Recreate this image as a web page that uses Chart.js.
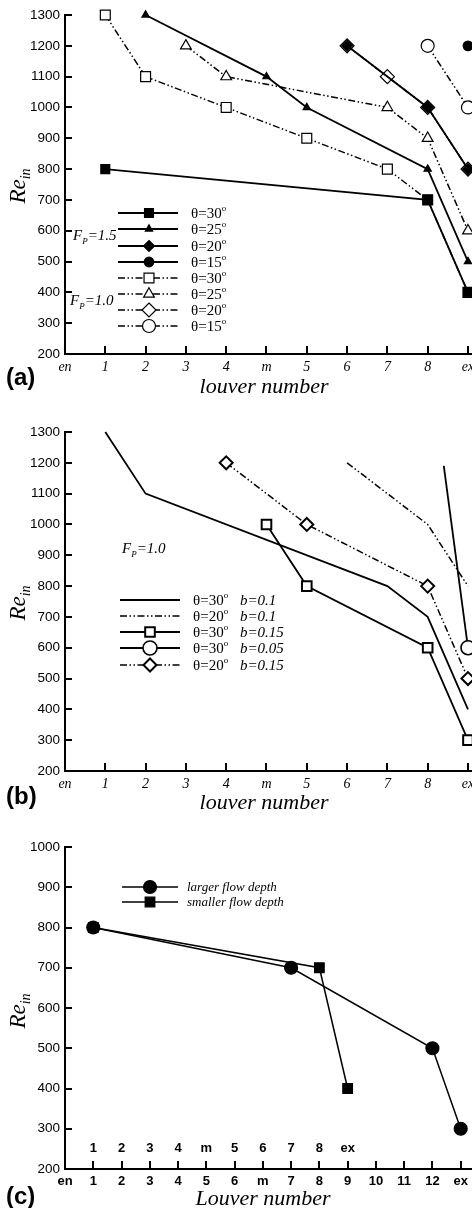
<!DOCTYPE html>
<html>
<head>
<meta charset="utf-8">
<script src="https://cdn.jsdelivr.net/npm/chart.js@4"></script>
<style>
  html, body { margin: 0; padding: 0; background: #fff; }
  canvas { position: absolute; left: 0; }
</style>
</head>
<body>
<canvas id="chartA" width="472" height="410" style="top:0px"></canvas>
<canvas id="chartB" width="472" height="400" style="top:415px"></canvas>
<canvas id="chartC" width="472" height="383" style="top:825px"></canvas>
<script>
// louver positions for (a) and (b): en=0, 1..4, m=5, 5..8 -> 6..9, ex=10
var abTickLabels = ['en', '1', '2', '3', '4', 'm', '5', '6', '7', '8', 'ex'];

// (a) F_P = 1.5, solid lines / filled symbols
var aFp15Theta30 = [[1, 800], [9, 700], [10, 400]];
var aFp15Theta25 = [[2, 1300], [5, 1100], [6, 1000], [9, 800], [10, 500]];
var aFp15Theta20 = [[7, 1200], [9, 1000], [10, 800]];
var aFp15Theta15 = [[10, 1200]];
// (a) F_P = 1.0, dash-dot lines / open symbols
var aFp10Theta30 = [[1, 1300], [2, 1100], [4, 1000], [6, 900], [8, 800], [9, 700], [10, 400]];
var aFp10Theta25 = [[3, 1200], [4, 1100], [8, 1000], [9, 900], [10, 600]];
var aFp10Theta20 = [[7, 1200], [8, 1100], [9, 1000], [10, 800]];
var aFp10Theta15 = [[9, 1200], [10, 1000]];
var aLegend = ['θ=30', 'θ=25', 'θ=20', 'θ=15', 'θ=30', 'θ=25', 'θ=20', 'θ=15'];

// (b) F_P = 1.0
var bTheta30b010 = [[1, 1300], [2, 1100], [8, 800], [9, 700], [10, 400]];
var bTheta20b010 = [[7, 1200], [9, 1000], [10, 800]];
var bTheta30b015 = [[5, 1000], [6, 800], [9, 600], [10, 300]];
var bTheta30b005 = [[9.4, 1190], [10, 600]];
var bTheta20b015 = [[4, 1200], [6, 1000], [9, 800], [10, 500]];
var bLegendTheta = ['θ=30', 'θ=20', 'θ=30', 'θ=30', 'θ=20'];
var bLegendB = ['b=0.1', 'b=0.1', 'b=0.15', 'b=0.05', 'b=0.15'];

// (c) two flow depths
var cTickLabels = ['en', '1', '2', '3', '4', '5', '6', 'm', '7', '8', '9', '10', '11', '12', 'ex'];
var cTopLabels = ['1', '2', '3', '4', 'm', '5', '6', '7', '8', 'ex'];
var cLarger = [[1, 800], [8, 700], [13, 500], [14, 300]];
var cSmaller = [[1, 800], [9, 700], [10, 400]];
var cLegend = ['larger flow depth', 'smaller flow depth'];

var SANS = '"Liberation Sans", Arial, sans-serif';
var SERIF = '"Liberation Serif", "Times New Roman", serif';
var DASHDOT = [7, 2.5, 1.5, 2.5, 1.5, 2.5];

function pts(arr) {
    return arr.map(p => ({ x: p[0], y: p[1] }));
}

function series(arr, opts) {
    return Object.assign({
        data: pts(arr),
        borderColor: '#000',
        pointBorderColor: '#000',
        pointBackgroundColor: '#000',
        borderWidth: 1.8,
        pointBorderWidth: 1.2,
        pointRadius: 0,
        tension: 0,
        fill: false,
        clip: false
    }, opts);
}

function drawMarker(ctx, style, x, y, r, fill, lw) {
    ctx.beginPath();
    if (style === 'rect') {
        var h = r * Math.SQRT1_2;
        ctx.rect(x - h, y - h, 2 * h, 2 * h);
    } else if (style === 'rectRot') {
        ctx.moveTo(x, y - r); ctx.lineTo(x + r, y); ctx.lineTo(x, y + r); ctx.lineTo(x - r, y);
        ctx.closePath();
    } else if (style === 'triangle') {
        for (var k = 0; k < 3; k++) {
            var a = k * 2 * Math.PI / 3;
            ctx.lineTo(x + Math.sin(a) * r, y - Math.cos(a) * r);
        }
        ctx.closePath();
    } else {
        ctx.arc(x, y, r, 0, Math.PI * 2);
    }
    ctx.fillStyle = fill;
    ctx.fill();
    ctx.lineWidth = lw;
    ctx.strokeStyle = '#000';
    ctx.stroke();
}

function legendSample(ctx, ds, x1, x2, y, mx) {
    ctx.save();
    ctx.strokeStyle = '#000';
    ctx.lineWidth = ds.borderWidth;
    ctx.setLineDash(ds.borderDash || []);
    ctx.beginPath(); ctx.moveTo(x1, y); ctx.lineTo(x2, y); ctx.stroke();
    ctx.setLineDash([]);
    var r = Array.isArray(ds.pointRadius) ? ds.pointRadius[ds.pointRadius.length - 1] : ds.pointRadius;
    if (r > 0) drawMarker(ctx, ds.pointStyle, mx, y, r, ds.pointBackgroundColor, ds.pointBorderWidth);
    ctx.restore();
}

// text with optional sub/superscript pieces: [text, font, dy]
function richText(ctx, parts, x, y) {
    ctx.save();
    ctx.fillStyle = '#000';
    ctx.textBaseline = 'alphabetic';
    parts.forEach(p => {
        ctx.font = p[1];
        ctx.fillText(p[0], x, y + (p[2] || 0));
        x += ctx.measureText(p[0]).width;
    });
    ctx.restore();
}

function thetaText(ctx, s, x, y) {
    richText(ctx, [[s, '15px ' + SERIF], ['o', '9px ' + SERIF, -7]], x, y);
}

function fpText(ctx, val, x, y) {
    richText(ctx, [['F', 'italic 15px ' + SERIF], ['P', 'italic 9px ' + SERIF, 4], ['=' + val, 'italic 15px ' + SERIF]], x, y);
}

function yTitle(ctx, x, cy) {
    ctx.save();
    ctx.font = 'italic 23px ' + SERIF;
    var w1 = ctx.measureText('Re').width;
    ctx.font = 'italic 14px ' + SERIF;
    var w2 = ctx.measureText('in').width;
    ctx.translate(x, cy);
    ctx.rotate(-Math.PI / 2);
    richText(ctx, [['Re', 'italic 23px ' + SERIF], ['in', 'italic 14px ' + SERIF, 5]], -(w1 + w2) / 2, 0);
    ctx.restore();
}

function plainText(ctx, s, font, x, y, align, base) {
    ctx.save();
    ctx.font = font;
    ctx.fillStyle = '#000';
    ctx.textAlign = align || 'left';
    ctx.textBaseline = base || 'alphabetic';
    ctx.fillText(s, x, y);
    ctx.restore();
}

// inward tick marks on both axes
var innerTicks = {
    id: 'innerTicks',
    beforeDatasetsDraw(chart) {
        var ctx = chart.ctx, a = chart.chartArea, x = chart.scales.x, y = chart.scales.y;
        ctx.save();
        ctx.strokeStyle = '#000';
        ctx.lineWidth = 2;
        ctx.beginPath();
        x.ticks.forEach(t => {
            if (t.value === 0) return;
            var px = Math.round(x.getPixelForValue(t.value));
            ctx.moveTo(px, a.bottom); ctx.lineTo(px, a.bottom - 8);
        });
        y.ticks.forEach(t => {
            var py = Math.round(y.getPixelForValue(t.value));
            ctx.moveTo(a.left, py); ctx.lineTo(a.left + 7, py);
        });
        ctx.stroke();
        ctx.restore();
    }
};

function makeChart(id, top, bottom, xMax, xLabels, xFont, yMin, yMax, datasets, decorate) {
    var cv = document.getElementById(id);
    var H = cv.height;
    return new Chart(cv.getContext('2d'), {
        type: 'line',
        data: { datasets: datasets },
        options: {
            responsive: false,
            animation: false,
            events: [],
            layout: { autoPadding: false, padding: { top: top, left: 0, right: 0, bottom: 0 } },
            scales: {
                x: {
                    type: 'linear',
                    min: 0,
                    max: xMax,
                    afterBuildTicks: s => { s.ticks = xLabels.map((l, i) => ({ value: i })); },
                    afterFit: s => { s.height = H - bottom; s.paddingLeft = 0; s.paddingRight = 0; },
                    ticks: {
                        callback: v => xLabels[Math.round(v)],
                        font: xFont,
                        color: '#000',
                        padding: 5,
                        maxRotation: 0,
                        autoSkip: false
                    },
                    grid: { display: false, drawTicks: false },
                    border: { display: true, color: '#000', width: 2 }
                },
                y: {
                    min: yMin,
                    max: yMax,
                    afterFit: s => { s.width = 65; s.paddingTop = 0; s.paddingBottom = 0; },
                    ticks: {
                        stepSize: 100,
                        callback: v => String(v),
                        font: { family: SANS, size: 13.5 },
                        color: '#000',
                        padding: 5
                    },
                    grid: { display: false, drawTicks: false },
                    border: { display: true, color: '#000', width: 2 }
                }
            },
            plugins: {
                legend: { display: false },
                tooltip: { enabled: false }
            }
        },
        plugins: [innerTicks, { id: 'decor', afterDraw: decorate }]
    });
}

// ---------- (a) ----------
var aSets = [
    series(aFp15Theta30, { pointStyle: 'rect', pointRadius: 6.3 }),
    series(aFp15Theta25, { pointStyle: 'triangle', pointRadius: 4.2 }),
    series(aFp15Theta20, { pointStyle: 'rectRot', pointRadius: 5.5 }),
    series(aFp15Theta15, { pointStyle: 'circle', pointRadius: 4.8 }),
    series(aFp10Theta30, { pointStyle: 'rect', pointRadius: 7, borderWidth: 1.5, borderDash: DASHDOT, pointBackgroundColor: '#fff' }),
    series(aFp10Theta25, { pointStyle: 'triangle', pointRadius: 6.2, borderWidth: 1.5, borderDash: DASHDOT, pointBackgroundColor: '#fff' }),
    series(aFp10Theta20, { pointStyle: 'rectRot', pointRadius: 7, borderWidth: 1.5, borderDash: DASHDOT, pointBackgroundColor: '#fff' }),
    series(aFp10Theta15, { pointStyle: 'circle', pointRadius: 6.5, borderWidth: 1.5, borderDash: DASHDOT, pointBackgroundColor: '#fff' })
];
var aRows = [213, 229, 246, 262, 278, 294, 310, 326];

makeChart('chartA', 15, 354, 10.1, abTickLabels, { family: SERIF, size: 14, style: 'italic' }, 200, 1300, aSets, function (chart) {
    var ctx = chart.ctx;
    aSets.forEach((ds, i) => {
        legendSample(ctx, ds, 118, 178, aRows[i], 149);
        thetaText(ctx, aLegend[i], 191, aRows[i] + 5);
    });
    fpText(ctx, '1.5', 73, 240);
    fpText(ctx, '1.0', 70, 305);
    yTitle(ctx, 25, 186);
    plainText(ctx, '(a)', 'bold 24px ' + SANS, 6, 378, 'left', 'middle');
    plainText(ctx, 'louver number', 'italic 22px ' + SERIF, 264, 393, 'center');
});

// ---------- (b) ----------
var bSets = [
    series(bTheta30b010, {}),
    series(bTheta20b010, { borderWidth: 1.5, borderDash: DASHDOT }),
    series(bTheta30b015, { pointStyle: 'rect', pointRadius: 6.8, pointBorderWidth: 2, pointBackgroundColor: '#fff' }),
    series(bTheta30b005, { pointStyle: 'circle', pointRadius: [0, 7], pointBorderWidth: 1.6, pointBackgroundColor: '#fff' }),
    series(bTheta20b015, { pointStyle: 'rectRot', pointRadius: 6.5, pointBorderWidth: 2, borderWidth: 1.5, borderDash: DASHDOT, pointBackgroundColor: '#fff' })
];
var bRows = [185, 201, 217, 233, 250];

makeChart('chartB', 17, 356, 10.1, abTickLabels, { family: SERIF, size: 14, style: 'italic' }, 200, 1300, bSets, function (chart) {
    var ctx = chart.ctx;
    bSets.forEach((ds, i) => {
        legendSample(ctx, ds, 120, 180, bRows[i], 150);
        thetaText(ctx, bLegendTheta[i], 193, bRows[i] + 5);
        plainText(ctx, bLegendB[i], 'italic 15px ' + SERIF, 240, bRows[i] + 5);
    });
    fpText(ctx, '1.0', 122, 138);
    yTitle(ctx, 25, 188);
    plainText(ctx, '(b)', 'bold 24px ' + SANS, 6, 382, 'left', 'middle');
    plainText(ctx, 'louver number', 'italic 22px ' + SERIF, 264, 394, 'center');
});

// ---------- (c) ----------
var cSets = [
    series(cLarger, { pointStyle: 'circle', pointRadius: 6.5, borderWidth: 1.5 }),
    series(cSmaller, { pointStyle: 'rect', pointRadius: 6.8, borderWidth: 1.5 })
];
var cRows = [62, 77];

makeChart('chartC', 22, 344, 14.4, cTickLabels, { family: SANS, size: 13, weight: 'bold' }, 200, 1000, cSets, function (chart) {
    var ctx = chart.ctx, x = chart.scales.x;
    cSets.forEach((ds, i) => {
        legendSample(ctx, ds, 122, 178, cRows[i], 150);
        plainText(ctx, cLegend[i], 'italic 13px ' + SERIF, 187, cRows[i] + 4);
    });
    cTopLabels.forEach((l, i) => {
        plainText(ctx, l, 'bold 13px ' + SANS, x.getPixelForValue(i + 1), 323, 'center', 'middle');
    });
    yTitle(ctx, 25, 186);
    plainText(ctx, '(c)', 'bold 24px ' + SANS, 6, 372, 'left', 'middle');
    plainText(ctx, 'Louver number', 'italic 22px ' + SERIF, 263, 380, 'center');
});
</script>
</body>
</html>
